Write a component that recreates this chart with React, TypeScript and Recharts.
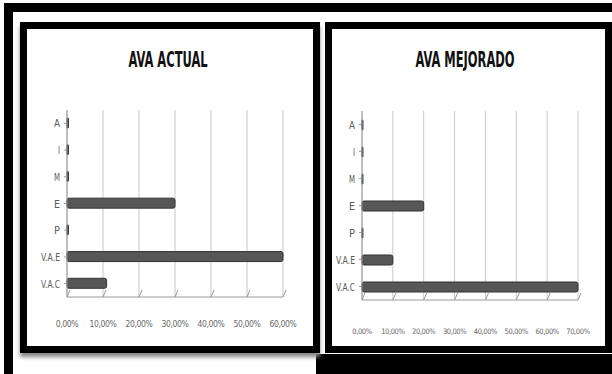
import { BarChart, Bar, XAxis, YAxis, CartesianGrid } from "recharts";

const categories = ["A", "I", "M", "E", "P", "V.A.E", "V.A.C"];
const actualValues = [0.004, 0.004, 0.004, 0.3, 0.004, 0.6, 0.11];
const mejoradoValues = [0.003, 0.003, 0.003, 0.2, 0.003, 0.1, 0.7];
const actualTicks = [0, 0.1, 0.2, 0.3, 0.4, 0.5, 0.6];
const mejoradoTicks = [0, 0.1, 0.2, 0.3, 0.4, 0.5, 0.6, 0.7];

const FONT = "'DejaVu Sans Condensed', 'Liberation Sans', sans-serif";

const fmtPct = (v: number) => (v * 100).toFixed(2).replace(".", ",") + "%";

const FloorTick = ({ x, y, payload, labelDy, fontSize }: any) => {
  const y0 = y - 8;
  return (
    <g>
      <line x1={x + 3} y1={y0 - 7} x2={x} y2={y0} stroke="#9a9a9a" strokeWidth={1} />
      <text x={x} y={y0 + labelDy} textAnchor="middle" fill="#666" fontSize={fontSize}
        fontFamily={FONT} letterSpacing={-0.4}>
        {fmtPct(payload.value)}
      </text>
    </g>
  );
};

const CatTick = ({ x, y, payload }: any) => {
  const w = payload.value.length > 1 ? 19 : payload.value === "I" ? 2 : 6;
  return (
    <text x={x - 2} y={y + 4} textAnchor="end" fill="#5a5a5a" fontSize={10.5} fontFamily={FONT}
      textLength={w} lengthAdjust="spacingAndGlyphs">
      {payload.value}
    </text>
  );
};

function Panel({
  values, ticks, max, margin, labelDy, fontSize,
}: {
  values: number[]; ticks: number[]; max: number;
  margin: { top: number; right: number; bottom: number; left: number }; labelDy: number; fontSize: number;
}) {
  const data = categories.map((c, i) => ({ name: c, value: values[i] }));
  return (
    <div style={{ position: "absolute", left: 0, top: 0 }}>
      <BarChart width={612} height={374} data={data} layout="vertical" margin={margin}>
        <CartesianGrid stroke="#c8c8c8" horizontal={false} />
        <XAxis
          type="number"
          domain={[0, max]}
          ticks={ticks}
          axisLine={{ stroke: "#9a9a9a" }}
          tickLine={false}
          tick={<FloorTick labelDy={labelDy} fontSize={fontSize} />}
          interval={0}
        />
        <YAxis
          type="category"
          dataKey="name"
          width={40}
          axisLine={{ stroke: "#9a9a9a" }}
          tickLine={{ stroke: "#9a9a9a" }}
          tickSize={3}
          tick={<CatTick />}
          interval={0}
        />
        <Bar dataKey="value" fill="#575757" stroke="#333" strokeWidth={1} barSize={10} radius={2} isAnimationActive={false} />
      </BarChart>
    </div>
  );
}

const titleStyle = {
  position: "absolute" as const,
  top: 47,
  transform: "translateX(-50%) scaleX(0.58)",
  fontFamily: FONT,
  fontWeight: "bold" as const,
  fontSize: 22,
  color: "#111",
  whiteSpace: "nowrap" as const,
  lineHeight: "26px",
};

export default function App() {
  return (
    <div style={{ position: "relative", width: 612, height: 374, background: "#fff", overflow: "hidden" }}>
      <style>{`body{margin:0}`}</style>
      {/* outer frame */}
      <div style={{ position: "absolute", left: 4, top: 3, width: 620, height: 380, borderTop: "9px solid #000", borderLeft: "9px solid #000", boxSizing: "border-box" }} />
      <div style={{ position: "absolute", left: 316, top: 354, width: 300, height: 30, background: "#000" }} />
      {/* panels */}
      <div style={{ position: "absolute", left: 20, top: 22, width: 300, height: 331, border: "7px solid #000", boxSizing: "border-box", background: "#fff", boxShadow: "0 4px 4px #888" }} />
      <div style={{ position: "absolute", left: 325, top: 22, width: 287, height: 331, border: "7px solid #000", boxSizing: "border-box", background: "#fff" }} />
      <div style={{ ...titleStyle, left: 168 }}>AVA ACTUAL</div>
      <div style={{ ...titleStyle, left: 465 }}>AVA MEJORADO</div>
      <Panel values={actualValues} ticks={actualTicks} max={0.6} labelDy={30} fontSize={8.5} margin={{ top: 110, right: 612 - 283, bottom: 47, left: 27 }} />
      <Panel values={mejoradoValues} ticks={mejoradoTicks} max={0.7} labelDy={34} fontSize={7.5} margin={{ top: 111, right: 34, bottom: 44, left: 322 }} />
    </div>
  );
}
